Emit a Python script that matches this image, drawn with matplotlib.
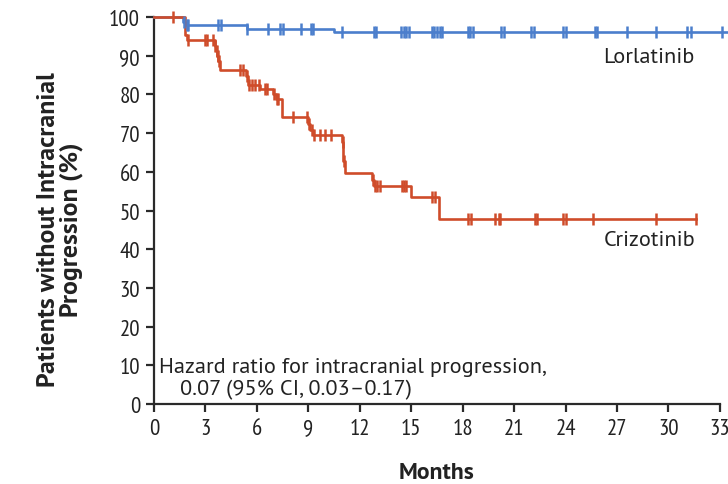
import numpy as np
import matplotlib.pyplot as plt
import matplotlib.font_manager as fm

# Kaplan-Meier curves: step times (months) and survival after each step (%)
lorla_times = [0, 1.7, 1.85, 5.4, 10.5]
lorla_surv = [100, 98.7, 97.9, 96.9, 96.1]
lorla_end = 33.6
lorla_censor = [1.75, 1.9, 2.0, 3.75, 3.9, 5.45, 6.65, 7.35, 7.55, 8.55, 9.15, 9.3,
                10.95, 12.8, 12.95, 14.4, 14.55, 14.7, 14.85, 16.2, 16.35, 16.5,
                16.65, 16.8, 18.3, 18.45, 18.6, 20.25, 20.4, 22.0, 22.15, 23.85,
                24.0, 25.7, 25.85, 27.6, 29.3, 31.1, 31.3, 33.1]

crizo_times = [0, 1.8, 1.95, 3.55, 3.62, 3.69, 3.76, 3.83, 5.35, 5.48, 6.2, 6.95,
               7.1, 7.45, 9.0, 9.12, 9.25, 10.95, 11.05, 11.15, 12.7, 12.8, 15.0, 16.6]
crizo_surv = [100, 95.4, 94.0, 92.6, 91.3, 90.0, 88.7, 86.3, 84.8, 82.3, 81.4, 80.1,
              78.8, 74.1, 72.3, 70.8, 69.6, 67.7, 62.9, 59.6, 58.0, 56.4, 53.4, 47.8]
crizo_end = 31.6
crizo_censor = [1.1, 2.0, 3.0, 3.1, 3.45, 3.58, 3.65, 3.72, 3.8, 5.0, 5.2, 5.4, 5.52,
                5.7, 5.9, 6.1, 6.5, 6.6, 7.0, 7.15, 7.25, 8.1, 8.95, 9.05, 9.2, 9.35,
                9.7, 10.0, 10.3, 11.0, 11.1, 12.75, 12.9, 13.0, 13.2, 14.45, 14.6,
                14.7, 16.2, 16.4, 18.3, 18.5, 19.9, 20.1, 20.2, 22.2, 22.35, 23.85,
                24.05, 25.6, 29.3, 31.6]

xticks = np.arange(0, 34, 3)
yticks = np.arange(0, 101, 10)

BLUE = '#4b7ecc'
RED = '#cf4c2a'
INK = '#222222'

# weights available per installed family
weights = {}
for f in fm.fontManager.ttflist:
    w = f.weight if isinstance(f.weight, int) else 400
    weights.setdefault(f.name, set()).add(w)


def pick(cands, need_bold=False):
    for c in cands:
        ws = weights.get(c)
        if ws and (not need_bold or max(ws) >= 600):
            return c
    return 'DejaVu Sans'


NARROW = pick(['PT Sans Narrow', 'Roboto Condensed', 'DejaVu Sans'])
TEXT = pick(['PT Sans', 'Lato', 'Noto Sans'])
BOLD = pick(['PT Sans', 'Lato', 'Open Sans'], need_bold=True)
plt.rcParams['font.family'] = [NARROW, 'DejaVu Sans']


def km_curve(ax, times, surv, end, censor, color):
    t = np.asarray(times + [end])
    s = np.asarray(surv + [surv[-1]])
    ax.step(t, s, where='post', color=color, lw=1.9, clip_on=False, zorder=3)
    c = np.asarray(censor)
    idx = np.searchsorted(times, c, side='right') - 1
    ax.plot(c, np.asarray(surv)[idx], ls='none', marker='|', ms=8, mew=1.8,
            color=color, clip_on=False, zorder=4)


fig = plt.figure(figsize=(7.28, 4.85), dpi=100)
ax = fig.add_axes([154 / 728, 80 / 485, 574.5 / 728, 387 / 485])

km_curve(ax, lorla_times, lorla_surv, lorla_end, lorla_censor, BLUE)
km_curve(ax, crizo_times, crizo_surv, crizo_end, crizo_censor, RED)

ax.set_xlim(0, 33.5)
ax.set_ylim(0, 100)
ax.set_xticks(xticks)
ax.set_yticks(yticks)
ax.spines['top'].set_visible(False)
ax.spines['right'].set_visible(False)
ax.spines['bottom'].set_bounds(0, 33)
for sp in ('left', 'bottom'):
    ax.spines[sp].set_linewidth(1.6)
    ax.spines[sp].set_color('#2a2a2a')
ax.tick_params(axis='both', length=6, width=1.6, color='#2a2a2a',
               labelsize=16.5, labelcolor=INK, pad=4)

ax.text(26.2, 89.9, 'Lorlatinib', fontsize=16, family=TEXT, color=INK, va='center')
ax.text(26.2, 42.6, 'Crizotinib', fontsize=16, family=TEXT, color=INK, va='center')
ax.text(0.3, 9.8, 'Hazard ratio for intracranial progression,',
        fontsize=16, family=TEXT, color=INK, va='center')
ax.text(1.5, 3.9, '0.07 (95% CI, 0.03\u20130.17)',
        fontsize=16, family=TEXT, color=INK, va='center')

ax.set_xlabel('Months', fontsize=17, fontweight='bold', family=BOLD, color=INK)
ax.xaxis.set_label_coords(0.4926, -0.15)
ax.set_ylabel('Patients without Intracranial\nProgression (%)', fontsize=18.5,
              fontweight='bold', family=BOLD, color=INK, linespacing=0.95)
ax.yaxis.set_label_coords(-0.124, 0.452)

fig.savefig('out.png', dpi=100)
